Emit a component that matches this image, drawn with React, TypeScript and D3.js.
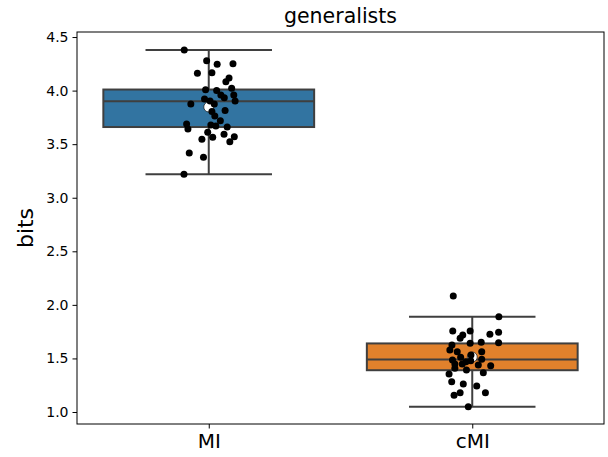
import { useEffect, useRef } from "react"
import * as d3 from "d3"

const categories = ["MI", "cMI"]
const boxColors = ["#3274a1", "#e1812c"]
const yTicks = [1.0, 1.5, 2.0, 2.5, 3.0, 3.5, 4.0, 4.5]

// box stats per category: whisker low, q1, median, q3, whisker high, mean
const whiskerLow = [3.22, 1.05]
const q1 = [3.66, 1.39]
const median = [3.9, 1.49]
const q3 = [4.01, 1.64]
const whiskerHigh = [4.38, 1.89]
const means = [3.847, 1.513]

// strip points: value and horizontal jitter (in category units)
const miValues = [
  4.379, 4.279, 4.245, 4.251, 4.161, 4.167, 4.117, 4.083, 4.008, 4.002, 4.021,
  3.959, 3.959, 3.934, 3.921, 3.903, 3.903, 3.875, 3.875, 3.806, 3.815, 3.763,
  3.719, 3.688, 3.641, 3.679, 3.669, 3.66, 3.611, 3.545, 3.564, 3.592, 3.57,
  3.523, 3.417, 3.377, 3.219,
]
const miJitter = [
  -0.093, -0.008, 0.032, 0.092, -0.043, 0.012, 0.077, 0.065, -0.012, 0.03,
  0.087, 0.046, 0.095, 0.059, -0.016, 0.005, 0.1, -0.068, 0.021, 0.012, 0.062,
  0.023, 0.044, -0.084, -0.079, 0.008, 0.027, 0.07, -0.004, -0.026, 0.015,
  0.058, 0.097, 0.08, -0.074, -0.02, -0.094,
]
const cmiValues = [
  2.083, 1.889, 1.756, 1.756, 1.744, 1.725, 1.719, 1.688, 1.641, 1.651, 1.647,
  1.625, 1.579, 1.563, 1.563, 1.532, 1.511, 1.485, 1.492, 1.47, 1.479, 1.448,
  1.448, 1.439, 1.432, 1.408, 1.392, 1.367, 1.355, 1.283, 1.261, 1.243, 1.18,
  1.156, 1.18, 1.05,
]
const cmiJitter = [
  -0.072, 0.101, -0.074, -0.008, 0.1, 0.067, -0.036, -0.046, -0.008, 0.034,
  0.1, -0.077, -0.085, -0.057, 0.036, -0.005, -0.044, -0.075, 0.036, -0.024,
  -0.006, -0.066, -0.038, 0.023, 0.07, -0.066, -0.022, 0.042, -0.088, -0.078,
  -0.034, 0.017, -0.046, -0.069, 0.05, -0.015,
]
const pointValues = [miValues, cmiValues]
const pointJitter = [miJitter, cmiJitter]

const width = 608
const height = 457
const margin = { top: 32, right: 4, bottom: 33, left: 77 }
const font = "DejaVu Sans, sans-serif"
const lineColor = "#3f3f3f"

const App = () => {
  const ref = useRef<SVGSVGElement>(null)

  useEffect(() => {
    const svg = d3.select(ref.current)
    svg.selectAll("*").remove()

    const x = d3
      .scaleLinear()
      .domain([-0.5, 1.5])
      .range([margin.left, width - margin.right])
    const y = d3
      .scaleLinear()
      .domain([0.888, 4.547])
      .range([height - margin.bottom, margin.top])

    const boxHalf = 0.4
    const capHalf = 0.24

    const g = svg.append("g")

    categories.forEach((c, i) => {
      const cx = x(i)
      // whiskers
      g.append("line")
        .attr("x1", cx).attr("x2", cx)
        .attr("y1", y(whiskerLow[i])).attr("y2", y(q1[i]))
        .attr("stroke", lineColor).attr("stroke-width", 2)
      g.append("line")
        .attr("x1", cx).attr("x2", cx)
        .attr("y1", y(q3[i])).attr("y2", y(whiskerHigh[i]))
        .attr("stroke", lineColor).attr("stroke-width", 2)
      // caps
      ;[whiskerLow[i], whiskerHigh[i]].forEach((v) => {
        g.append("line")
          .attr("x1", x(i - capHalf)).attr("x2", x(i + capHalf))
          .attr("y1", y(v)).attr("y2", y(v))
          .attr("stroke", lineColor).attr("stroke-width", 2)
      })
      // box
      g.append("rect")
        .attr("x", x(i - boxHalf))
        .attr("width", x(i + boxHalf) - x(i - boxHalf))
        .attr("y", y(q3[i]))
        .attr("height", y(q1[i]) - y(q3[i]))
        .attr("fill", boxColors[i])
        .attr("stroke", lineColor)
        .attr("stroke-width", 2)
      // median
      g.append("line")
        .attr("x1", x(i - boxHalf)).attr("x2", x(i + boxHalf))
        .attr("y1", y(median[i])).attr("y2", y(median[i]))
        .attr("stroke", lineColor).attr("stroke-width", 2)
      // mean marker
      g.append("circle")
        .attr("cx", cx).attr("cy", y(means[i]))
        .attr("r", 5)
        .attr("fill", "#fff")
        .attr("stroke", "#222")
        .attr("stroke-width", 0.8)
    })

    // strip points
    categories.forEach((c, i) => {
      g.selectAll(`.pt${i}`)
        .data(pointValues[i])
        .enter()
        .append("circle")
        .attr("cx", (d, j) => x(i + pointJitter[i][j]))
        .attr("cy", (d) => y(d))
        .attr("r", 3.5)
        .attr("fill", "#000")
    })

    // frame
    g.append("rect")
      .attr("x", margin.left)
      .attr("y", margin.top)
      .attr("width", width - margin.left - margin.right)
      .attr("height", height - margin.top - margin.bottom)
      .attr("fill", "none")
      .attr("stroke", "#000")
      .attr("stroke-width", 1)

    // y axis
    const yAxis = d3
      .axisLeft(y)
      .tickValues(yTicks)
      .tickFormat(d3.format(".1f"))
      .tickSize(4.5)
      .tickPadding(4)
    const ya = svg
      .append("g")
      .attr("transform", `translate(${margin.left},0)`)
      .call(yAxis)
    ya.select(".domain").remove()
    ya.selectAll("text")
      .attr("font-family", font)
      .attr("font-size", 14)
      .attr("fill", "#000")

    // x axis
    const xAxis = d3
      .axisBottom(x)
      .tickValues([0, 1])
      .tickFormat((d) => categories[d as number])
      .tickSize(4.5)
      .tickPadding(5)
    const xa = svg
      .append("g")
      .attr("transform", `translate(0,${height - margin.bottom})`)
      .call(xAxis)
    xa.select(".domain").remove()
    xa.selectAll("text")
      .attr("font-family", font)
      .attr("font-size", 20)
      .attr("fill", "#000")

    // labels
    svg.append("text")
      .attr("x", (margin.left + width - margin.right) / 2)
      .attr("y", 23)
      .attr("text-anchor", "middle")
      .attr("font-family", font)
      .attr("font-size", 20.5)
      .text("generalists")

    svg.append("text")
      .attr("transform", `translate(33,${(margin.top + height - margin.bottom) / 2}) rotate(-90)`)
      .attr("text-anchor", "middle")
      .attr("font-family", font)
      .attr("font-size", 22)
      .text("bits")
  }, [])

  return (
    <svg
      ref={ref}
      width={width}
      height={height}
      style={{ position: "absolute", left: 0, top: 0, background: "#fff" }}
    />
  )
}

export default App
